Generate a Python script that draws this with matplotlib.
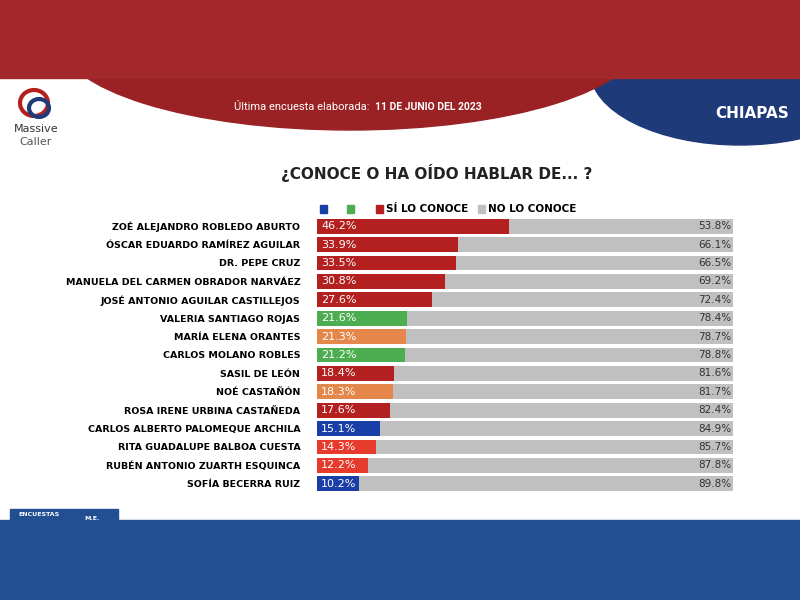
import matplotlib.pyplot as plt
from matplotlib.patches import Rectangle, Ellipse

names = ["ZOÉ ALEJANDRO ROBLEDO ABURTO", "ÓSCAR EDUARDO RAMÍREZ AGUILAR", "DR. PEPE CRUZ",
         "MANUELA DEL CARMEN OBRADOR NARVÁEZ", "JOSÉ ANTONIO AGUILAR CASTILLEJOS",
         "VALERIA SANTIAGO ROJAS", "MARÍA ELENA ORANTES", "CARLOS MOLANO ROBLES",
         "SASIL DE LEÓN", "NOÉ CASTAÑÓN", "ROSA IRENE URBINA CASTAÑEDA",
         "CARLOS ALBERTO PALOMEQUE ARCHILA", "RITA GUADALUPE BALBOA CUESTA",
         "RUBÉN ANTONIO ZUARTH ESQUINCA", "SOFÍA BECERRA RUIZ"]
si = [46.2, 33.9, 33.5, 30.8, 27.6, 21.6, 21.3, 21.2, 18.4, 18.3, 17.6, 15.1, 14.3, 12.2, 10.2]
no = [53.8, 66.1, 66.5, 69.2, 72.4, 78.4, 78.7, 78.8, 81.6, 81.7, 82.4, 84.9, 85.7, 87.8, 89.8]
bar_colors = ["#b3201f", "#b3201f", "#b3201f", "#b3201f", "#b3201f", "#4cae50", "#e5874a",
              "#4cae50", "#b3201f", "#e5874a", "#b3201f", "#1a3ea8", "#e63a2c", "#e63a2c", "#1a3ea8"]
grey = "#c0c0c0"

fig = plt.figure(figsize=(8, 6), dpi=100)
bg = fig.add_axes([0, 0, 1, 1])
bg.set_xlim(0, 800)
bg.set_ylim(600, 0)
bg.axis("off")

# header decorations
bg.add_patch(Ellipse((740, 70), 300, 150, color="#1f3a78", zorder=1))
bg.add_patch(Ellipse((350, 40), 580, 180, color="#9a2224", zorder=1))
bg.add_patch(Rectangle((0, 0), 800, 78, color="#a3282b", zorder=2))
bg.text(375, 107, "Última encuesta elaborada:  ", color="white", fontsize=8, ha="right", va="center",
        family="Roboto", zorder=3)
bg.text(375, 107, "11 DE JUNIO DEL 2023", color="white", fontsize=7.5, ha="left", va="center",
        fontweight="bold", family="Roboto", zorder=3)
bg.text(752, 113, "CHIAPAS", color="white", fontsize=11, ha="center", va="center",
        fontweight="bold", zorder=3)
# logo
bg.add_patch(Ellipse((34, 103), 28, 26, fill=False, ec="#b3201f", lw=3))
bg.add_patch(Ellipse((39, 108), 20, 18, fill=False, ec="#1f3a78", lw=3))
bg.text(36, 129, "Massive", fontsize=8, ha="center", va="center", color="#333333")
bg.text(36, 142, "Caller", fontsize=8, ha="center", va="center", color="#555555")

bg.text(437, 173, "¿CONOCE O HA OÍDO HABLAR DE... ?", fontsize=11, fontweight="bold",
        ha="center", va="center", color="#222222")

# legend
for x, c in [(320, "#1a3ea8"), (347, "#4cae50"), (376, "#b3201f"), (478, grey)]:
    bg.add_patch(Rectangle((x, 205), 7, 8, color=c))
bg.text(386, 209, "SÍ LO CONOCE", fontsize=7.5, fontweight="bold", va="center")
bg.text(488, 209, "NO LO CONOCE", fontsize=7.5, fontweight="bold", va="center")

# footer
bg.add_patch(Rectangle((0, 520), 800, 80, color="#214f91"))
bg.add_patch(Rectangle((10, 509), 108, 12, color="#214f91"))
bg.text(18, 515, "ENCUESTAS", fontsize=4.5, color="white", fontweight="bold", va="center")
bg.text(84, 518, "M.E.", fontsize=4.5, color="white", fontweight="bold", va="center")

# chart
ax = fig.add_axes([317 / 800, 1 - 493 / 600, 416 / 800, 276 / 600])
y = list(range(len(names)))
ax.barh(y, si, color=bar_colors, height=0.8)
ax.barh(y, no, left=si, color=grey, height=0.8)
for i in y:
    ax.text(1, i, f"{si[i]}%", color="white", fontsize=8, va="center", ha="left")
    ax.text(99.5, i, f"{no[i]}%", color="#333333", fontsize=7.5, va="center", ha="right")
ax.set_xlim(0, 100)
ax.set_ylim(len(names) - 0.5, -0.5)
ax.set_yticks(y)
ax.set_yticklabels(names, fontsize=6.8, fontweight="bold")
ax.tick_params(length=0, pad=12)
ax.set_xticks([])
for s in ax.spines.values():
    s.set_visible(False)

fig.savefig("out.png", dpi=100)
